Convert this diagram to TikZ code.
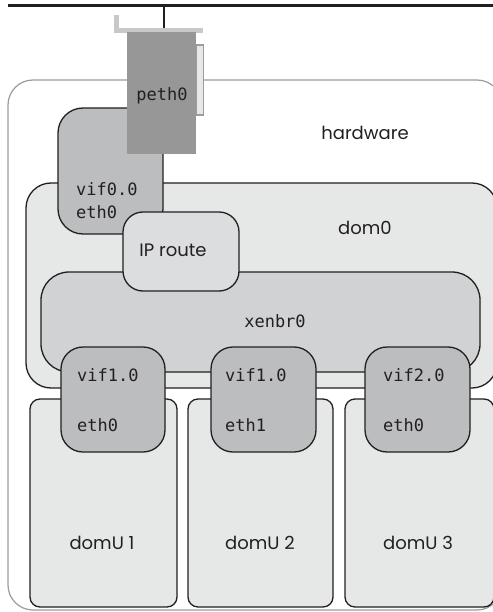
\documentclass[tikz,border=0pt]{standalone}
\usepackage{fontspec}
\setmainfont{Poppins}
\newfontfamily\monofont{DejaVu Sans Mono}
\definecolor{edge}{HTML}{231F20}
\definecolor{hwedge}{HTML}{9C9C9C}
\definecolor{lightfill}{HTML}{E6E7E7}
\definecolor{bridgefill}{HTML}{D1D2D3}
\definecolor{routefill}{HTML}{DCDDDE}
\definecolor{vifcolor}{HTML}{BCBDBF}
\definecolor{pethcolor}{HTML}{979797}
\definecolor{bracketcolor}{HTML}{C8C8C8}
\tikzset{
  box/.style={draw=edge, line width=1.3pt, inner sep=0pt, outer sep=0pt},
  hwbox/.style={draw=hwedge, line width=1.2pt, fill=white, rounded corners=25pt, inner sep=0pt},
  dombox/.style={box, fill=lightfill, rounded corners=25pt},
  bridgebox/.style={box, fill=bridgefill, rounded corners=28pt},
  routebox/.style={box, fill=routefill, rounded corners=20pt},
  vifbox/.style={box, fill=vifcolor, rounded corners=22pt},
  guestbox/.style={box, fill=lightfill, rounded corners=10pt},
  nicbox/.style={fill=pethcolor, inner sep=0pt},
  label/.style={font=\fontsize{18}{20}\selectfont, inner sep=0pt, text=edge},
  mono/.style={font=\monofont\fontsize{17}{19}\selectfont, inner sep=0pt, text=edge, anchor=west},
}
\begin{document}
\begin{tikzpicture}[x=1pt, y=-1pt]
\useasboundingbox (0,0) rectangle (492,612);

% network bus and the drop to the physical card
\coordinate (busL) at (8,6);
\coordinate (busR) at (495,6);
\coordinate (dropTop) at (164,6);
\coordinate (dropBot) at (164,29);
\draw[line width=3pt, color=edge] (busL) -- (busR);
\draw[line width=2.6pt, color=edge] (dropTop) -- (dropBot);

% hardware
\node[hwbox, minimum width=494pt, minimum height=530pt] (hw) at (255,345) {};
\node[label] (hwtext) at (365,133) {hardware};

% dom0
\node[dombox, minimum width=471pt, minimum height=205pt] (dom0) at (261.5,285.5) {};
\node[label] (dom0text) at (365,228) {dom0};

% vif0.0 / eth0 interface of dom0
\node[vifbox, rounded corners=25pt, minimum width=105pt, minimum height=126pt] (vif00) at (110.5,171) {};
\node[mono] (vif00a) at (76,189) {vif0.0};
\node[mono] (vif00b) at (76,212) {eth0};

% physical card peth0 with its bracket
\fill[bracketcolor] (114,15) rectangle (119,32);
\fill[bracketcolor] (114,28) rectangle (203,33);
\node[nicbox, minimum width=69pt, minimum height=122pt] (peth) at (161.5,93) {};
\node[draw=hwedge, fill=lightfill, line width=1.6pt, minimum width=7pt, minimum height=70pt, inner sep=0pt] (pethside) at (200,80) {};
\node[mono, anchor=center] (pethtext) at (162,96) {peth0};

% bridge
\node[bridgebox, minimum width=439pt, minimum height=100pt] (xenbr) at (260.5,322) {};
\node[mono, anchor=center] (xenbrtext) at (275,321) {xenbr0};

% IP routing
\node[routebox, minimum width=116pt, minimum height=79pt] (iproute) at (181,251.5) {};
\node[label] (iptext) at (173,250) {IP route};

% guest domains
\node[guestbox, minimum width=147pt, minimum height=208pt] (domU1) at (103.5,503) {};
\node[guestbox, minimum width=145pt, minimum height=208pt] (domU2) at (260.5,503) {};
\node[guestbox, minimum width=149pt, minimum height=208pt] (domU3) at (419.5,503) {};
\node[label] (domU1text) at (102,543) {domU 1};
\node[label] (domU2text) at (260,543) {domU 2};
\node[label] (domU3text) at (418,543) {domU 3};

% virtual interfaces joining the guests to the bridge
\node[vifbox, minimum width=104pt, minimum height=105pt] (vif1a) at (113,399.5) {};
\node[vifbox, minimum width=105pt, minimum height=105pt] (vif1b) at (263.5,399.5) {};
\node[vifbox, minimum width=105pt, minimum height=105pt] (vif2) at (417.5,399.5) {};
\node[mono] (vif1atop) at (77,375) {vif1.0};
\node[mono] (vif1abot) at (77,425) {eth0};
\node[mono] (vif1btop) at (225,375) {vif1.0};
\node[mono] (vif1bbot) at (225,425) {eth1};
\node[mono] (vif2top) at (383,375) {vif2.0};
\node[mono] (vif2bot) at (383,425) {eth0};
\end{tikzpicture}
\end{document}
